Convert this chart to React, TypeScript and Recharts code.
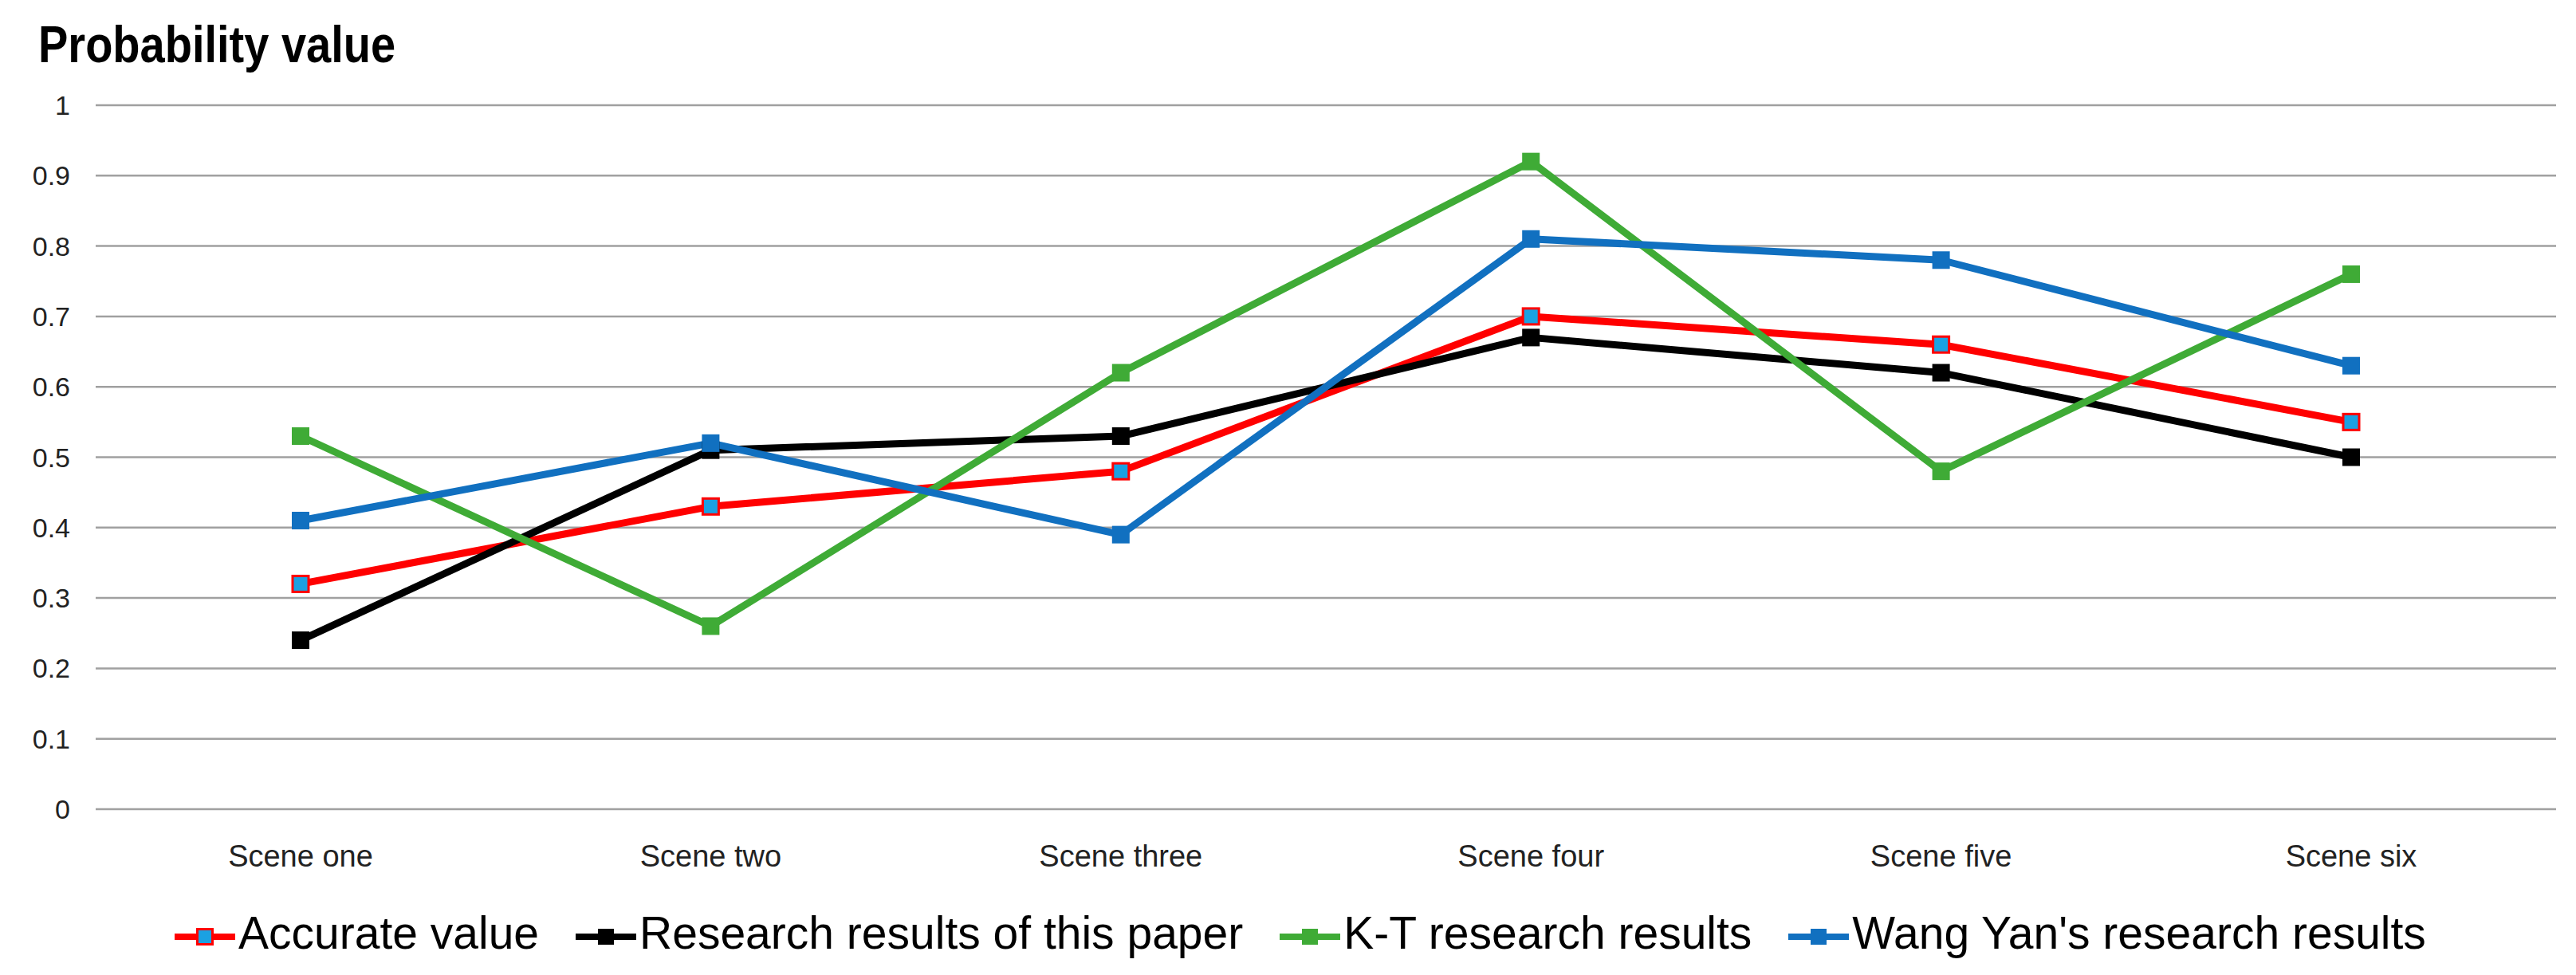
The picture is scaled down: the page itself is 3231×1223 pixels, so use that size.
import React from 'react';
import { LineChart, Line, XAxis, YAxis, CartesianGrid } from 'recharts';

const scenes = ['Scene one', 'Scene two', 'Scene three', 'Scene four', 'Scene five', 'Scene six'];
const accurateValue = [0.32, 0.43, 0.48, 0.7, 0.66, 0.55];
const thisPaperResults = [0.24, 0.51, 0.53, 0.67, 0.62, 0.5];
const ktResults = [0.53, 0.26, 0.62, 0.92, 0.48, 0.76];
const wangYanResults = [0.41, 0.52, 0.39, 0.81, 0.78, 0.63];
const yTicks = [0, 0.1, 0.2, 0.3, 0.4, 0.5, 0.6, 0.7, 0.8, 0.9, 1];

const seriesKeys = ['accurate', 'thisPaper', 'kt', 'wangYan'];
const seriesNames = ['Accurate value', 'Research results of this paper', 'K-T research results', "Wang Yan's research results"];
const seriesColors = ['#ff0000', '#000000', '#3fab36', '#1170c0'];
const markerFills = ['#1ba1e2', '#000000', '#3fab36', '#1170c0'];

const data = scenes.map((scene, i) => ({
  scene,
  accurate: accurateValue[i],
  thisPaper: thisPaperResults[i],
  kt: ktResults[i],
  wangYan: wangYanResults[i],
}));

const FONT = "'Liberation Sans', Arial, sans-serif";

const makeDot = (stroke: string, fill: string, outlined: boolean) => (props: any) => {
  const { cx, cy, index } = props;
  if (cx == null || cy == null) return <g key={`n-${index}`} />;
  if (outlined) {
    return (
      <rect key={`d-${index}`} x={cx - 10} y={cy - 10} width={20} height={20} fill={fill} stroke={stroke} strokeWidth={3} />
    );
  }
  return <rect key={`d-${index}`} x={cx - 11} y={cy - 11} width={22} height={22} fill={fill} />;
};

const LegendIcon = ({ color, fill, outlined }: { color: string; fill: string; outlined: boolean }) => (
  <svg width={76} height={57} style={{ display: 'block', flex: '0 0 auto' }}>
    <line x1={0} y1={33} x2={76} y2={33} stroke={color} strokeWidth={8} />
    {outlined ? (
      <rect x={28.5} y={23.5} width={19} height={19} fill={fill} stroke={color} strokeWidth={3} />
    ) : (
      <rect x={28} y={23} width={20} height={20} fill={fill} />
    )}
  </svg>
);

export default function App() {
  const W = 3215;
  const H = 1207;
  return (
    <div style={{ position: 'relative', width: W, height: H, background: '#fff' }}>
      <div
        style={{
          position: 'absolute',
          left: 40,
          top: 23,
          fontFamily: FONT,
          fontWeight: 'bold',
          fontSize: 56,
          lineHeight: '56px',
          color: '#000',
          whiteSpace: 'nowrap',
          transform: 'scaleY(1.15)',
          transformOrigin: '0 47px',
        }}
      >
        Probability value
      </div>
      <LineChart width={W} height={H} data={data} margin={{ top: 124, right: 17, bottom: 140, left: 12 }}>
        <CartesianGrid vertical={false} stroke="#a0a0a0" strokeWidth={2.5} />
        <XAxis
          dataKey="scene"
          type="category"
          scale="point"
          padding={{ left: 257, right: 257 }}
          axisLine={false}
          tickLine={false}
          tickSize={0}
          tickMargin={45}
          height={60}
          interval={0}
          tick={{ fontSize: 38, fill: '#222', fontFamily: FONT }}
        />
        <YAxis
          type="number"
          domain={[0, 1]}
          ticks={yTicks}
          interval={0}
          width={100}
          axisLine={false}
          tickLine={false}
          tickSize={0}
          tickMargin={32}
          tickFormatter={(v: number) => String(Math.round(v * 10) / 10)}
          tick={{ fontSize: 34, fill: '#222', fontFamily: FONT }}
        />
        {seriesKeys.map((k, i) => (
          <Line
            key={k}
            dataKey={k}
            name={seriesNames[i]}
            type="linear"
            stroke={seriesColors[i]}
            strokeWidth={9}
            strokeLinejoin="round"
            dot={makeDot(seriesColors[i], markerFills[i], i === 0)}
            activeDot={false}
            isAnimationActive={false}
          />
        ))}
      </LineChart>
      <div
        style={{
          position: 'absolute',
          left: 211,
          top: 1134,
          display: 'flex',
          alignItems: 'center',
          fontFamily: FONT,
          fontSize: 57,
          lineHeight: '57px',
          color: '#000',
          whiteSpace: 'nowrap',
        }}
      >
        {seriesNames.map((name, i) => (
          <div key={name} style={{ display: 'flex', alignItems: 'center', marginRight: 46 }}>
            <LegendIcon color={seriesColors[i]} fill={markerFills[i]} outlined={i === 0} />
            <span style={{ marginLeft: 4 }}>{name}</span>
          </div>
        ))}
      </div>
    </div>
  );
}
